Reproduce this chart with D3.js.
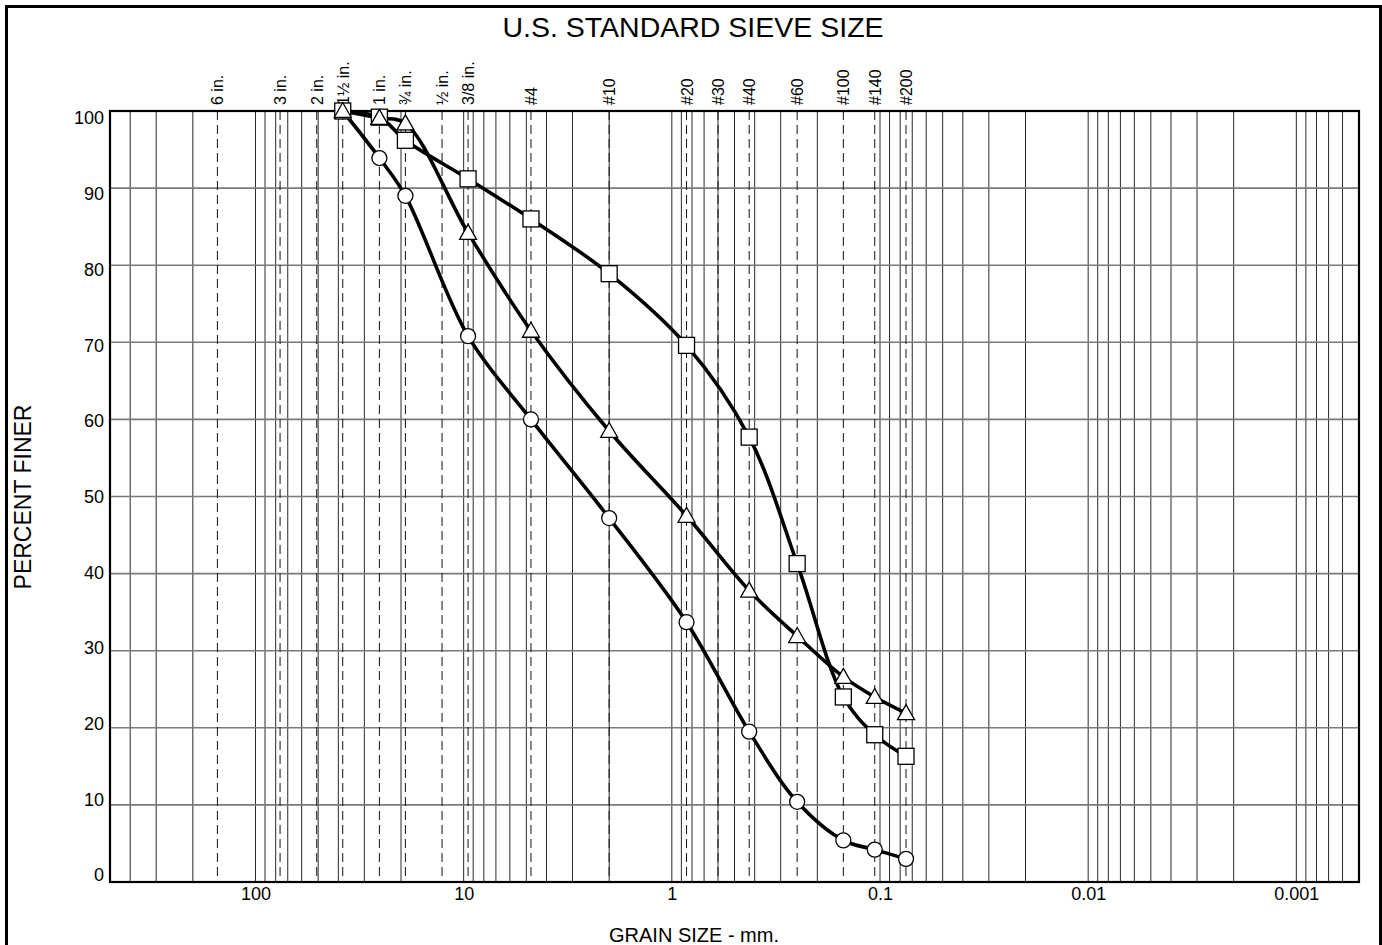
<!DOCTYPE html>
<html>
<head>
<meta charset="utf-8">
<script src="https://cdn.jsdelivr.net/npm/d3@7"></script>
<style>
  body { margin: 0; background: #fff; }
  svg text { font-family: "Liberation Sans", Arial, sans-serif; fill: #000; }
</style>
</head>
<body>
<svg id="chart" width="1382" height="945"></svg>
<script>
// sieve openings (mm) and their names
const sieveSizes = [152.4, 76.2, 50.8, 38.1, 25.4, 19.05, 12.7, 9.525, 4.75, 2.0, 0.85, 0.6, 0.425, 0.25, 0.15, 0.106, 0.075]
const sieveNames = ['6 in.', '3 in.', '2 in.', '1\u00bd in.', '1 in.', '\u00be in.', '\u00bd in.', '3/8 in.', '#4', '#10', '#20', '#30', '#40', '#60', '#100', '#140', '#200']

// test sieves actually used for the three samples
const testSizes = [38.1, 25.4, 19.05, 9.525, 4.75, 2.0, 0.85, 0.425, 0.25, 0.15, 0.106, 0.075]
const circleFiner = [100, 93.9, 89.0, 70.8, 60.0, 47.2, 33.7, 19.5, 10.4, 5.4, 4.2, 3.0]
const squareFiner = [100, 99.2, 96.2, 91.2, 86.0, 78.9, 69.6, 57.7, 41.3, 24.0, 19.1, 16.3]
const triangleFiner = [100, 99.1, 98.4, 84.2, 71.5, 58.5, 47.5, 37.8, 31.9, 26.6, 24.0, 21.9]

const xTickValues = [100, 10, 1, 0.1, 0.01, 0.001]
const yTickValues = [0, 10, 20, 30, 40, 50, 60, 70, 80, 90, 100]

const width = 1382
const height = 945
const plotLeft = 110
const plotRight = 1359
const plotTop = 111
const plotBottom = 882

const svg = d3.select('#chart')

const x = d3.scaleLog().domain([500, 0.0005]).range([plotLeft, plotRight])
const y = d3.scaleLinear().domain([0, 100]).range([plotBottom, plotTop])
// the printed labels sit on a slightly tighter spacing than the grid
const yLabel = d3.scaleLinear().domain([0, 100]).range([874.5, 117.5])

svg.append('rect')
    .attr('width', width)
    .attr('height', height)
    .attr('fill', '#fff')

// outer frame
svg.append('rect')
    .attr('x', 6.5)
    .attr('y', 6.5)
    .attr('width', 1374)
    .attr('height', 960)
    .attr('fill', 'none')
    .attr('stroke', '#000')
    .attr('stroke-width', 3)

svg.append('text')
    .text('U.S. STANDARD SIEVE SIZE')
    .attr('x', 693)
    .attr('y', 37)
    .attr('text-anchor', 'middle')
    .attr('font-size', 28.5)

const grid = svg.append('g')

// log minor grid
grid.selectAll('line.vgrid')
    .data(x.ticks())
    .join('line')
    .attr('class', 'vgrid')
    .attr('x1', d => x(d))
    .attr('x2', d => x(d))
    .attr('y1', plotTop)
    .attr('y2', plotBottom)
    .attr('stroke', '#2a2a2a')
    .attr('stroke-width', 1)

// horizontal grid
grid.selectAll('line.hgrid')
    .data(yTickValues.slice(1, -1))
    .join('line')
    .attr('class', 'hgrid')
    .attr('x1', plotLeft)
    .attr('x2', plotRight)
    .attr('y1', d => y(d))
    .attr('y2', d => y(d))
    .attr('stroke', '#7a7a7a')
    .attr('stroke-width', 1.6)

// sieve lines, dashed
grid.selectAll('line.sieve')
    .data(sieveSizes)
    .join('line')
    .attr('class', 'sieve')
    .attr('x1', d => x(d))
    .attr('x2', d => x(d))
    .attr('y1', plotTop)
    .attr('y2', plotBottom)
    .attr('stroke', '#111')
    .attr('stroke-width', 1)
    .attr('stroke-dasharray', '9,5')

svg.selectAll('text.sieve')
    .data(sieveSizes)
    .join('text')
    .attr('class', 'sieve')
    .attr('transform', d => `translate(${x(d) + 6}, 105) rotate(-90)`)
    .attr('font-size', 16)
    .text((d, i) => sieveNames[i])

// plot border
svg.append('rect')
    .attr('x', plotLeft)
    .attr('y', plotTop)
    .attr('width', plotRight - plotLeft)
    .attr('height', plotBottom - plotTop)
    .attr('fill', 'none')
    .attr('stroke', '#000')
    .attr('stroke-width', 2.2)

// axes
const yAxis = svg.append('g')
    .attr('transform', `translate(${plotLeft - 6}, 0)`)
    .call(d3.axisLeft(yLabel).tickValues(yTickValues).tickSize(0).tickPadding(0))
yAxis.select('.domain').remove()
yAxis.selectAll('text')
    .attr('font-size', 18)
    .attr('font-family', '"Liberation Sans", Arial, sans-serif')
    .attr('dy', '0.36em')

const xAxis = svg.append('g')
    .attr('transform', `translate(0, ${plotBottom})`)
    .call(d3.axisBottom(x).tickValues(xTickValues).tickSize(0).tickPadding(0).tickFormat(d => String(d)))
xAxis.select('.domain').remove()
xAxis.selectAll('text')
    .attr('font-size', 18)
    .attr('font-family', '"Liberation Sans", Arial, sans-serif')
    .attr('y', 18)
    .attr('dy', 0)

svg.append('text')
    .text('GRAIN SIZE - mm.')
    .attr('x', 694)
    .attr('y', 942)
    .attr('text-anchor', 'middle')
    .attr('font-size', 20)

svg.append('text')
    .text('PERCENT FINER')
    .attr('transform', 'translate(31, 497) rotate(-90)')
    .attr('text-anchor', 'middle')
    .attr('font-size', 23)

// curves
const series = [
  {shape: 'circle', values: circleFiner},
  {shape: 'square', values: squareFiner},
  {shape: 'triangle', values: triangleFiner}
]

const line = d3.line()
    .x(d => x(d[0]))
    .y(d => y(d[1]))
    .curve(d3.curveCatmullRom.alpha(0.5))

const curves = svg.append('g')
series.forEach(s => {
  curves.append('path')
      .datum(testSizes.map((v, i) => [v, s.values[i]]))
      .attr('d', line)
      .attr('fill', 'none')
      .attr('stroke', '#000')
      .attr('stroke-width', 3.6)
      .attr('stroke-linejoin', 'round')
})

const markers = svg.append('g')
series.forEach(s => {
  const pts = testSizes.map((v, i) => [v, s.values[i]])
  const g = markers.append('g')
  if (s.shape === 'circle') {
    g.selectAll('circle')
        .data(pts)
        .join('circle')
        .attr('cx', d => x(d[0]))
        .attr('cy', d => y(d[1]))
        .attr('r', 7.5)
        .attr('fill', '#fff')
        .attr('stroke', '#000')
        .attr('stroke-width', 1.3)
  } else if (s.shape === 'square') {
    g.selectAll('rect')
        .data(pts)
        .join('rect')
        .attr('x', d => x(d[0]) - 8)
        .attr('y', d => y(d[1]) - 8)
        .attr('width', 16)
        .attr('height', 16)
        .attr('fill', '#fff')
        .attr('stroke', '#000')
        .attr('stroke-width', 1.3)
  } else {
    g.selectAll('path')
        .data(pts)
        .join('path')
        .attr('d', d => {
          const cx = x(d[0])
          const cy = y(d[1])
          return `M${cx},${cy - 8.5}L${cx + 8.5},${cy + 6.5}L${cx - 8.5},${cy + 6.5}Z`
        })
        .attr('fill', '#fff')
        .attr('stroke', '#000')
        .attr('stroke-width', 1.3)
  }
})
</script>
</body>
</html>
